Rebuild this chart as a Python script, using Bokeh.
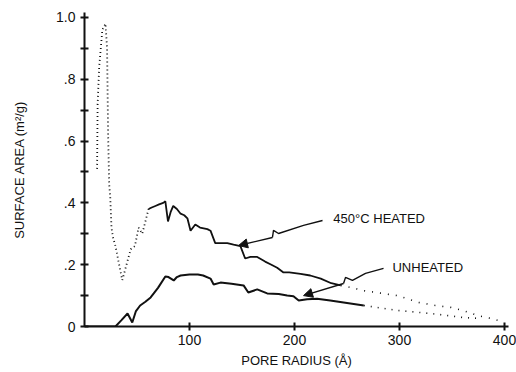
from bokeh.plotting import figure
from bokeh.models import FixedTicker, Arrow, NormalHead, Range1d
from bokeh.core.properties import value
from bokeh.embed import file_html
from bokeh.resources import INLINE
import numpy as np

# ---- data ----
heated_x = [12, 12.5, 14, 16, 17, 20, 21.5, 22, 22.5, 23.5, 24.5, 25.7, 27, 29.5, 33, 36, 40, 44, 48,
            51.5, 55, 58, 61, 64, 67.5, 71, 75, 77, 79.5, 82, 84.5, 88, 91.5, 95, 98, 101, 105.5,
            110, 117, 120, 124.5, 132, 136, 142, 148.5, 153, 158, 164.5, 172, 178, 183.5, 189.5,
            195, 205.7, 215, 225, 235, 244, 255, 266, 282, 298, 318, 334, 348.5, 362, 374, 386, 396]
heated_y = [0.51, 0.72, 0.84, 0.92, 0.96, 0.98, 0.90, 0.76, 0.62, 0.46, 0.42, 0.32, 0.29, 0.26, 0.20,
            0.15, 0.20, 0.25, 0.26, 0.32, 0.30, 0.34, 0.38, 0.385, 0.39, 0.395, 0.40, 0.405, 0.34,
            0.37, 0.39, 0.38, 0.365, 0.36, 0.35, 0.31, 0.33, 0.32, 0.315, 0.31, 0.27, 0.27, 0.27,
            0.265, 0.26, 0.22, 0.225, 0.225, 0.21, 0.20, 0.19, 0.175, 0.175, 0.17, 0.165, 0.155,
            0.14, 0.133, 0.125, 0.116, 0.108, 0.10, 0.078, 0.068, 0.062, 0.05, 0.036, 0.027, 0.018]

unheated_x = [0, 10, 20, 29.5, 35, 41, 45.5, 49, 53, 58, 63, 70, 77, 80, 85, 88, 91.5, 100, 108, 113,
              120, 123, 129.5, 140, 151.5, 156, 164.5, 174, 185, 193, 199, 204, 212, 221.5, 234,
              250, 266, 298, 330, 361, 377]
unheated_y = [0, 0, 0, 0, 0.02, 0.042, 0.013, 0.05, 0.068, 0.08, 0.094, 0.125, 0.162, 0.16, 0.149,
              0.16, 0.165, 0.168, 0.168, 0.165, 0.155, 0.136, 0.142, 0.138, 0.133, 0.11, 0.12,
              0.107, 0.105, 0.10, 0.098, 0.084, 0.088, 0.09, 0.084, 0.076, 0.068, 0.052, 0.042,
              0.029, 0.026]

x_ticks = [100, 200, 300, 400]
y_ticks = [0, 0.2, 0.4, 0.6, 0.8, 1.0]
y_tick_labels = ["0", ".2", ".4", ".6", ".8", "1.0"]
y_minor_ticks = [0.1, 0.3, 0.5, 0.7, 0.9]

FONT = "Liberation Sans"
INK = "#111111"

p = figure(width=516, height=372, output_backend="svg", toolbar_location=None,
           x_range=Range1d(0, 403.8), y_range=Range1d(0, 1.016),
           min_border_left=84, min_border_right=8, min_border_top=12, min_border_bottom=46)
p.outline_line_color = None
p.xgrid.visible = False
p.ygrid.visible = False
p.background_fill_color = "white"
p.border_fill_color = "white"

hx = np.array(heated_x); hy = np.array(heated_y)
ux = np.array(unheated_x); uy = np.array(unheated_y)

# heated: dotted at the steep start and the tail, solid in between
m1 = hx <= 61
m2 = (hx >= 61) & (hx <= 244)
m3 = hx >= 244
p.line(hx[m1], hy[m1], line_color=INK, line_width=1.8, line_dash="1 3")
p.line(hx[m2], hy[m2], line_color=INK, line_width=1.8)
p.line(hx[m3], hy[m3], line_color=INK, line_width=1.6, line_dash="1 7")

# unheated: solid then dotted tail
n1 = ux <= 266
n2 = ux >= 266
p.line(ux[n1], uy[n1], line_color=INK, line_width=2)
p.line(ux[n2], uy[n2], line_color=INK, line_width=1.6, line_dash="1 6")

# annotation leaders (zig-zag) and arrow heads
lead1_x = [226.7, 208.6, 184.8, 180.0, 179.0]
lead1_y = [0.343, 0.327, 0.301, 0.311, 0.288]
lead2_x = [284.8, 267.6, 255.2, 248.6, 246.7]
lead2_y = [0.188, 0.172, 0.149, 0.159, 0.139]
p.line(lead1_x, lead1_y, line_color=INK, line_width=1.4)
p.line(lead2_x, lead2_y, line_color=INK, line_width=1.4)
p.add_layout(Arrow(x_start=179.0, y_start=0.288, x_end=146.7, y_end=0.262, line_color=INK,
                   line_width=1.4, end=NormalHead(size=9, fill_color=INK, line_color=INK)))
p.add_layout(Arrow(x_start=246.7, y_start=0.139, x_end=208.6, y_end=0.100, line_color=INK,
                   line_width=1.4, end=NormalHead(size=9, fill_color=INK, line_color=INK)))

p.text(x=[237, 293.3], y=[0.35, 0.191], text=["450°C HEATED", "UNHEATED"],
       text_font=value(FONT), text_font_size="13px", text_color=INK,
       text_baseline="middle", text_align="left")

# axes
for ax in (p.xaxis[0], p.yaxis[0]):
    ax.axis_line_width = 2
    ax.axis_line_color = INK
    ax.major_tick_line_color = INK
    ax.major_tick_line_width = 2
    ax.minor_tick_line_color = INK
    ax.minor_tick_line_width = 2
    ax.major_tick_in = 4
    ax.major_tick_out = 4
    ax.minor_tick_in = 4
    ax.minor_tick_out = 4
    ax.major_label_text_font = FONT
    ax.major_label_text_font_size = "14px"
    ax.major_label_text_color = INK
    ax.axis_label_text_font = FONT
    ax.axis_label_text_font_size = "13px"
    ax.axis_label_text_font_style = "normal"
    ax.axis_label_text_color = INK

p.xaxis.ticker = FixedTicker(ticks=x_ticks)
p.xaxis.major_label_standoff = 4
p.xaxis.axis_label = "PORE RADIUS (Å)"
p.xaxis.axis_label_standoff = 5

p.yaxis.ticker = FixedTicker(ticks=y_ticks, minor_ticks=y_minor_ticks)
p.yaxis.major_label_overrides = {t: l for t, l in zip(y_ticks, y_tick_labels)}
p.yaxis.major_label_standoff = 5
p.yaxis.axis_label = "SURFACE AREA (m²/g)"
p.yaxis.axis_label_standoff = 26

open("out.html", "w").write(file_html(p, INLINE))
